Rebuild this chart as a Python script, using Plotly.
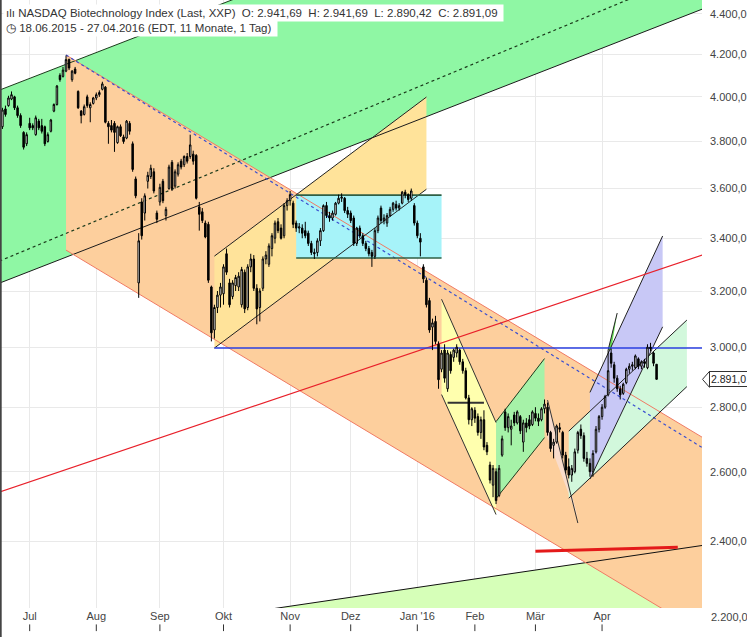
import math
import pandas as pd
import plotly.graph_objects as go

# ---------------- data ----------------
HOLIDAYS = ["2015-07-03", "2015-09-07", "2015-11-26", "2015-12-25", "2016-01-01",
            "2016-01-18", "2016-02-15", "2016-03-25", "2016-05-30"]
FIRST_DAY = "2015-06-18"

OPEN = [3865,3945,3960,3990,4000,3950,3915,3840,3790,3880,3870,3830,3890,3870,3865,3800,3845,3935,3965,4100,
        4095,4120,4175,4080,4130,4025,3935,3920,4000,3950,3970,3995,4010,4035,4045,3880,3870,3880,3795,3865,
        3820,3815,3880,3790,3640,3230,3545,3500,3630,3650,3670,3500,3545,3630,3490,3600,3710,3610,3660,3715,
        3700,3735,3735,3745,3740,3525,3505,3460,3455,3215,3060,3140,3185,3190,3340,3230,3180,3220,3215,3150,
        3270,3140,3290,3320,3210,3140,3210,3320,3300,3360,3400,3465,3440,3410,3530,3550,3540,3460,3440,3440,
        3430,3420,3380,3345,3345,3390,3430,3530,3490,3480,3495,3540,3560,3560,3510,3500,3480,3380,3440,3410,
        3380,3360,3345,3330,3430,3520,3470,3460,3490,3515,3535,3520,3540,3585,3575,3560,3530,3460,3400,3290,
        3240,3165,3070,3090,3010,2925,2990,2860,2975,2965,2980,2990,2950,2920,2830,2760,2790,2770,2720,2760,
        2680,2620,2560,2600,2530,2650,2785,2735,2730,2775,2750,2770,2690,2750,2760,2745,2780,2765,2760,2795,
        2800,2720,2680,2690,2735,2720,2650,2615,2590,2600,2665,2730,2710,2640,2625,2600,2660,2730,2770,2800,
        2840,2980,2940,2895,2860,2845,2880,2925,2935,2930,2960,2935,2950,2930,3000,2980,2941.69]
HIGH = [3950,3960,4005,4025,4005,3960,3925,3845,3840,3905,3880,3915,3900,3900,3870,3840,3900,3970,4055,4110,
        4140,4195,4180,4125,4140,4030,3940,3965,4010,3975,4000,4020,4030,4070,4050,3890,3895,3890,3870,3875,
        3830,3895,3890,3800,3650,3420,3560,3580,3670,3700,3685,3510,3620,3640,3525,3700,3720,3680,3710,3725,
        3740,3750,3830,3760,3745,3545,3520,3470,3465,3220,3150,3200,3230,3300,3360,3245,3240,3260,3270,3290,
        3280,3300,3340,3335,3225,3210,3330,3350,3380,3420,3470,3480,3455,3540,3560,3590,3550,3470,3460,3455,
        3465,3430,3390,3360,3400,3440,3535,3545,3505,3510,3545,3575,3580,3565,3525,3510,3490,3445,3450,3420,
        3390,3370,3355,3440,3490,3530,3495,3500,3525,3545,3550,3540,3590,3595,3580,3600,3540,3470,3420,3300,
        3250,3175,3100,3110,3020,2990,3010,2990,2985,2995,3010,2995,2960,2930,2840,2800,2800,2780,2770,2790,
        2690,2630,2620,2610,2620,2710,2795,2780,2760,2785,2790,2775,2760,2765,2775,2790,2800,2780,2800,2825,
        2815,2725,2700,2745,2750,2725,2660,2640,2620,2670,2725,2745,2720,2660,2640,2665,2740,2775,2810,2840,
        2990,2995,2950,2905,2870,2880,2930,2945,2950,2975,2965,2955,2960,3010,3015,2985,2941.69]
LOW = [3855,3910,3955,3985,3940,3905,3860,3765,3780,3850,3850,3825,3850,3835,3780,3795,3840,3930,3960,4070,
       4090,4115,4125,4070,4105,3945,3880,3915,3950,3885,3965,3985,4000,4030,3880,3790,3840,3755,3790,3820,
       3790,3810,3830,3670,3560,3175,3395,3470,3600,3640,3580,3460,3530,3540,3470,3595,3590,3600,3650,3680,
       3690,3705,3725,3700,3555,3430,3460,3400,3230,3020,3030,3120,3140,3150,3260,3140,3170,3200,3200,3140,
       3120,3130,3270,3200,3080,3090,3200,3300,3290,3330,3380,3420,3395,3400,3510,3530,3440,3425,3420,3400,
       3400,3370,3335,3320,3330,3370,3425,3480,3465,3470,3490,3535,3545,3500,3480,3460,3370,3370,3400,3370,
       3350,3330,3290,3320,3420,3460,3455,3445,3485,3505,3510,3510,3535,3560,3545,3550,3450,3400,3330,3230,
       3140,3050,2990,3010,2860,2915,2880,2850,2910,2950,2965,2940,2910,2825,2745,2740,2750,2710,2700,2665,
       2650,2565,2525,2505,2525,2645,2725,2720,2680,2740,2745,2715,2660,2720,2730,2740,2755,2740,2755,2780,
       2710,2660,2640,2685,2720,2640,2595,2580,2570,2595,2655,2700,2630,2615,2585,2585,2655,2720,2760,2795,
       2835,2930,2880,2850,2825,2840,2875,2910,2920,2925,2925,2925,2930,2925,2985,2935,2890.42]
CLOSE = [3940,3920,3995,4010,3950,3915,3870,3775,3830,3860,3860,3905,3860,3845,3790,3830,3895,3965,4050,4080,
         4125,4175,4135,4120,4110,3950,3915,3955,3960,3965,3995,4010,4020,4060,3885,3865,3850,3840,3865,3825,
         3800,3890,3845,3680,3570,3390,3410,3570,3655,3685,3590,3475,3605,3550,3515,3690,3600,3670,3700,3690,
         3735,3715,3785,3715,3560,3495,3470,3405,3240,3050,3140,3185,3215,3290,3270,3150,3230,3250,3255,3280,
         3135,3290,3320,3210,3135,3200,3320,3335,3370,3410,3460,3430,3400,3530,3550,3575,3455,3440,3445,3420,
         3410,3380,3345,3340,3390,3430,3530,3490,3480,3500,3540,3560,3565,3510,3495,3470,3380,3440,3410,3380,
         3360,3340,3330,3430,3480,3470,3480,3490,3515,3540,3520,3530,3585,3575,3555,3590,3460,3410,3385,3245,
         3150,3060,3085,3020,2890,2980,2895,2980,2920,2990,3000,2950,2920,2830,2760,2795,2765,2720,2760,2675,
         2660,2575,2610,2515,2610,2700,2735,2770,2740,2750,2785,2725,2750,2735,2740,2785,2765,2755,2795,2810,
         2720,2670,2690,2740,2730,2650,2605,2590,2610,2660,2720,2710,2640,2625,2600,2655,2730,2770,2800,2835,
         2920,2945,2895,2860,2840,2875,2925,2935,2940,2970,2935,2950,2945,3000,2995,2945,2891.09]

MONTH_TICK_DATES = ["2015-07-01", "2015-08-03", "2015-09-01", "2015-10-01", "2015-11-02",
                    "2015-12-01", "2016-01-04", "2016-02-01", "2016-03-01", "2016-04-01"]
MONTH_LABELS = ["Jul", "Aug", "Sep", "Okt", "Nov", "Dez", "Jan '16", "Feb", "Mär", "Apr"]
PRICE_TICKS = [2200, 2400, 2600, 2800, 3000, 3200, 3400, 3600, 3800, 4000, 4200, 4400]
PRICE_VIEW = [2223, 4471]
X_VIEW = [-0.8, 231.0]

# drawn chart objects: (date, price) vertices
GREEN_CHANNEL = [("2015-06-17", 4031), ("2016-05-20", 5529), ("2016-05-20", 4436), ("2015-06-17", 3229)]
GREEN_DOTTED = [("2015-06-17", 3312), ("2016-05-20", 4647)]
LIME_ZONE = [("2015-09-14", 2188), ("2016-05-20", 2391), ("2016-05-20", 2000), ("2015-09-14", 2000)]
ORANGE_CHANNEL = [("2015-07-20", 4197), ("2016-05-20", 2694), ("2016-05-20", 2152), ("2015-07-20", 3354)]
ORANGE_DOTTED = [("2015-07-20", 4197), ("2016-05-20", 2662)]
YELLOW_OCT = [("2015-09-28", 3331), ("2016-01-07", 3999), ("2016-01-07", 3597), ("2015-09-28", 2997)]
CYAN_BOX = [("2015-11-04", 3573), ("2016-01-14", 3573), ("2016-01-14", 3324), ("2015-11-04", 3324)]
YELLOW_JAN = [("2016-01-14", 3170), ("2016-02-10", 2751), ("2016-02-10", 2475), ("2016-01-14", 2841)]
JAN_LEVEL = [("2016-01-19", 2814), ("2016-02-04", 2814)]
GREEN_FEB = [("2016-02-10", 2754), ("2016-03-04", 2961), ("2016-03-04", 2704), ("2016-02-10", 2521)]
PINK_MAR = [("2016-03-07", 2823), ("2016-03-21", 2465), ("2016-03-16", 2534), ("2016-03-07", 2703)]
PINK_EDGE = [("2016-03-07", 2823), ("2016-03-21", 2451)]
MINT_CHANNEL = [("2016-03-16", 2724), ("2016-05-11", 3095), ("2016-05-11", 2867), ("2016-03-16", 2522)]
LAVENDER_CHANNEL = [("2016-03-28", 2848), ("2016-04-29", 3409), ("2016-04-29", 3071), ("2016-03-28", 2578)]
GREEN_WEDGE = [("2016-04-05", 2990), ("2016-04-08", 3120), ("2016-04-06", 2990)]
RED_TREND = [("2015-06-17", 2540), ("2016-05-20", 3343)]
BLUE_LEVEL = [("2015-09-28", 2997), ("2016-05-20", 2997)]
SUPPORT_LINE = [("2016-03-01", 2373), ("2016-05-06", 2384)]

# ---------------- helpers ----------------
cal = pd.bdate_range("2015-06-01", "2016-06-30", freq="C", holidays=HOLIDAYS)
pos = {d.strftime("%Y-%m-%d"): k for k, d in enumerate(cal)}
base = pos[FIRST_DAY]


def xi(d):
    return pos[d] - base


n = len(CLOSE)
xs = list(range(n))
HIGH = [max(h, o, c) for h, o, c in zip(HIGH, OPEN, CLOSE)]
LOW = [min(l, o, c) for l, o, c in zip(LOW, OPEN, CLOSE)]

fig = go.Figure()


def polygon(pts, color):
    px = [xi(d) for d, _ in pts]
    py = [p for _, p in pts]
    fig.add_trace(go.Scatter(x=px + [px[0]], y=py + [py[0]], mode="lines", fill="toself",
                             fillcolor=color, line=dict(width=0, color=color),
                             hoverinfo="skip", showlegend=False))


def segment(a, b, color, width=1.0, dash="solid"):
    fig.add_trace(go.Scatter(x=[xi(a[0]), xi(b[0])], y=[a[1], b[1]], mode="lines",
                             line=dict(color=color, width=width, dash=dash),
                             hoverinfo="skip", showlegend=False))


# fills (bottom to top)
polygon(GREEN_CHANNEL, "#8ff7a4")
polygon(LIME_ZONE, "#d6ffb8")
polygon(ORANGE_CHANNEL, "#fdcf9d")
polygon(YELLOW_OCT, "#ffe39a")
polygon(CYAN_BOX, "#a6f3f9")
polygon(YELLOW_JAN, "#ffffae")
polygon(GREEN_FEB, "#a6f2a8")
polygon(PINK_MAR, "#f9dccb")
polygon(MINT_CHANNEL, "#d2f8dc")
polygon(LAVENDER_CHANNEL, "#c8c8f6")
polygon(GREEN_WEDGE, "#66dd55")

# lines
segment(GREEN_CHANNEL[0], GREEN_CHANNEL[1], "#1b3a1b")
segment(GREEN_CHANNEL[3], GREEN_CHANNEL[2], "#1b1b1b")
segment(GREEN_DOTTED[0], GREEN_DOTTED[1], "#1b3a1b", 1.2, "dot")
segment(LIME_ZONE[0], LIME_ZONE[1], "#111111")
segment(ORANGE_CHANNEL[0], ORANGE_CHANNEL[1], "#f07a64")
segment(ORANGE_CHANNEL[3], ORANGE_CHANNEL[2], "#f07a64")
segment(ORANGE_DOTTED[0], ORANGE_DOTTED[1], "#3a4fd0", 1.2, "dot")
segment(YELLOW_OCT[0], YELLOW_OCT[1], "#222222")
segment(YELLOW_OCT[3], YELLOW_OCT[2], "#222222")
segment(CYAN_BOX[0], CYAN_BOX[1], "#2f5f45", 1.6)
segment(CYAN_BOX[3], CYAN_BOX[2], "#2f5f45", 1.6)
segment(YELLOW_JAN[0], YELLOW_JAN[1], "#333333")
segment(YELLOW_JAN[3], YELLOW_JAN[2], "#333333")
segment(JAN_LEVEL[0], JAN_LEVEL[1], "#333333", 2)
segment(GREEN_FEB[0], GREEN_FEB[1], "#1e3a1e")
segment(GREEN_FEB[3], GREEN_FEB[2], "#1e3a1e")
segment(PINK_EDGE[0], PINK_EDGE[1], "#333333")
segment(MINT_CHANNEL[0], MINT_CHANNEL[1], "#222222")
segment(MINT_CHANNEL[3], MINT_CHANNEL[2], "#222222")
segment(LAVENDER_CHANNEL[0], LAVENDER_CHANNEL[1], "#222222")
segment(LAVENDER_CHANNEL[3], LAVENDER_CHANNEL[2], "#222222")
segment(GREEN_WEDGE[0], GREEN_WEDGE[1], "#222222")
segment(RED_TREND[0], RED_TREND[1], "#e8202a", 1.2)
segment(BLUE_LEVEL[0], BLUE_LEVEL[1], "#2a3fe0", 1.4)
segment(SUPPORT_LINE[0], SUPPORT_LINE[1], "#e41a1a", 3)

# candles on an overlaying axis pair so they sit above the drawings
fig.add_trace(go.Candlestick(
    x=xs, open=OPEN, high=HIGH, low=LOW, close=CLOSE,
    increasing=dict(line=dict(color="#000000", width=1), fillcolor="#ffffff"),
    decreasing=dict(line=dict(color="#000000", width=1), fillcolor="#000000"),
    whiskerwidth=0, xaxis="x2", yaxis="y2", hoverinfo="skip", showlegend=False))

lo, hi = math.log10(PRICE_VIEW[0]), math.log10(PRICE_VIEW[1])
month_idx = [xi(d) for d in MONTH_TICK_DATES]


def de(v, dec):
    s = f"{v:,.{dec}f}"
    return s.replace(",", "#").replace(".", ",").replace("#", ".")


FONT = "Liberation Sans, Arial, sans-serif"
PLOT_W, PLOT_H = 747 - 45, 637 - 29
fig.update_layout(
    width=747, height=637, margin=dict(l=0, r=45, t=0, b=29, autoexpand=False),
    paper_bgcolor="white", plot_bgcolor="white", separators=",.",
    font=dict(family=FONT, size=11, color="#333333"),
    xaxis=dict(range=X_VIEW, tickvals=month_idx, ticktext=MONTH_LABELS, showgrid=True,
               gridcolor="#e9e9e9", gridwidth=1, zeroline=False, ticks="", showline=False,
               automargin=False, tickfont=dict(size=11, color="#444444")),
    yaxis=dict(type="log", range=[lo, hi], side="right", tickvals=PRICE_TICKS, tickformat=",.1f",
               showgrid=True, gridcolor="#e9e9e9", zeroline=False, ticks="", showline=False,
               automargin=False, ticklabelstandoff=7, tickfont=dict(size=11, color="#444444")),
    xaxis2=dict(range=X_VIEW, overlaying="x", anchor="y2", visible=False,
                rangeslider=dict(visible=False)),
    yaxis2=dict(type="log", range=[lo, hi], overlaying="y", anchor="x2", visible=False),
)

# bottom tick marks under month labels
for m in month_idx:
    fig.add_shape(type="line", xref="x", yref="paper", x0=m, x1=m, y0=-0.027, y1=-0.038,
                  line=dict(color="#333333", width=1))

# left border
fig.add_shape(type="line", xref="paper", yref="paper", x0=0.001, x1=0.001, y0=-0.05, y1=1,
              line=dict(color="#444444", width=2))

# label for the lowest price tick (drawn below plotting area in the reference)
fig.add_annotation(xref="paper", yref="paper", x=1, xshift=7, xanchor="left",
                   y=(math.log10(PRICE_TICKS[0]) - lo) / (hi - lo), yanchor="middle",
                   text=de(PRICE_TICKS[0], 1), showarrow=False,
                   font=dict(size=11, color="#444444"))

# current price tag with pointer (value truncated to one decimal, as shown)
tag_y = (math.log10(CLOSE[-1]) - lo) / (hi - lo)
fig.add_annotation(xref="paper", yref="paper", x=1, xshift=7, xanchor="left",
                   y=tag_y, yanchor="middle", text=de(math.floor(CLOSE[-1] * 10) / 10, 1),
                   showarrow=False, bgcolor="white", bordercolor="#333333", borderwidth=1,
                   borderpad=1, font=dict(size=10.5, color="#222222"))
tx0, tx1 = 1 + 0.5 / PLOT_W, 1 + 7.5 / PLOT_W
th = 8 / PLOT_H
fig.add_shape(type="path", xref="paper", yref="paper",
              path=f"M {tx1},{tag_y + th} L {tx0},{tag_y} L {tx1},{tag_y - th} Z",
              fillcolor="white", line=dict(color="#333333", width=1))

sp = "\u00a0"
title1 = ("ılı" + sp + "NASDAQ Biotechnology Index (Last, XXP)" + sp * 2 +
          f"O: {de(OPEN[-1], 2)}" + sp * 2 + f"H: {de(HIGH[-1], 2)}" + sp * 2 +
          f"L: {de(LOW[-1], 2)}" + sp * 2 + f"C: {de(CLOSE[-1], 2)}" + sp)
title2 = "◷" + sp + "18.06.2015 - 27.04.2016 (EDT, 11 Monate, 1 Tag)" + sp
fig.add_annotation(xref="paper", yref="paper", x=0.004, y=1 - 12.5 / PLOT_H, xanchor="left",
                   yanchor="middle", text=title1, showarrow=False, bgcolor="white",
                   borderpad=2, font=dict(size=11.5, color="#333333"))
fig.add_annotation(xref="paper", yref="paper", x=0.004, y=1 - 28 / PLOT_H, xanchor="left",
                   yanchor="middle", text=title2, showarrow=False, bgcolor="white",
                   borderpad=2, font=dict(size=11.5, color="#333333"))

fig.write_html("out.html", config={"displayModeBar": False},
               post_script="document.body.style.margin='0';")
